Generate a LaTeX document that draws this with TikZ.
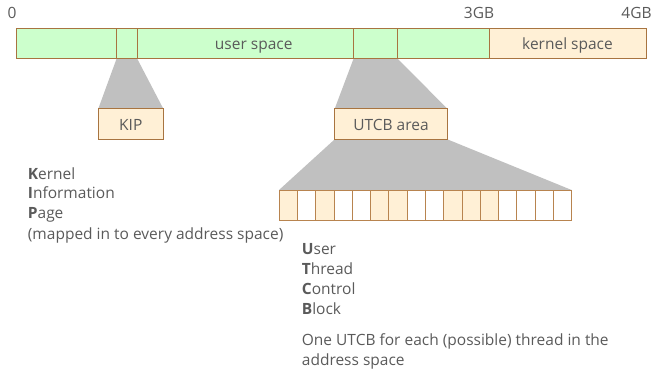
\documentclass[tikz,border=0pt]{standalone}
\usepackage{fontspec}
\setmainfont{Open Sans}
\usetikzlibrary{backgrounds}
\definecolor{grn}{HTML}{CCFFCC}
\definecolor{org}{HTML}{FFF0D6}
\definecolor{brd}{HTML}{A87440}
\definecolor{cbrd}{HTML}{B8844F}
\definecolor{gry}{HTML}{C0C0C0}
\definecolor{txt}{HTML}{5A5A5A}
\begin{document}
\begin{tikzpicture}[x=1pt,y=-1pt,
  every node/.style={text=txt, font=\fontsize{15.5}{18}\selectfont},
  seg/.style={draw=brd, line width=0.8pt, inner sep=0pt, outer sep=0pt, anchor=north west, minimum height=30.3pt},
  cell/.style={draw=cbrd, line width=0.6pt, inner sep=0pt, outer sep=0pt, anchor=north west, minimum width=18.29pt, minimum height=30.7pt},
  lbl/.style={inner sep=0pt, anchor=base west},
  clbl/.style={inner sep=0pt, anchor=base},
  shade/.style={fill=gry}]
\useasboundingbox (0,0) rectangle (654,373);
% bar segments
\node[seg, fill=grn, minimum width=100pt] (u1) at (16.7,28) {};
\node[seg, fill=grn, minimum width=20.3pt] (kipbar) at (116.7,28) {};
\node[seg, fill=grn, minimum width=216.7pt] (u2) at (137,28) {};
\node[seg, fill=grn, minimum width=43.6pt] (utcbbar) at (353.7,28) {};
\node[seg, fill=grn, minimum width=92pt] (u3) at (397.3,28) {};
\node[seg, fill=org, minimum width=157.4pt] (kern) at (489.3,28) {};
\node[clbl] (kt) at (567.5,49) {kernel space};
\node[clbl] (us) at (253.7,49) {user space};
% address labels
\node[clbl] (a0) at (12,18.5) {0};
\node[clbl] (a3) at (479,18.5) {3GB};
\node[clbl] (a4) at (636.5,18.5) {4GB};
% zoom boxes
\node[seg, fill=org, minimum width=65pt, minimum height=30.6pt] (kip) at (98.3,108.7) {};
\node[seg, fill=org, minimum width=112.6pt, minimum height=30.6pt] (utcb) at (334.7,108.7) {};
\node[clbl] (kipl) at (130.8,130) {KIP};
\node[clbl] (utcbl) at (391,130) {UTCB area};
% cells
\foreach \i/\f in {1/org,2/white,3/org,4/white,5/white,6/org,7/org,8/white,9/white,10/org,11/org,12/org,13/white,14/white,15/white,16/white}{
  \node[cell, fill=\f] (c\i) at ({279+(\i-1)*18.29},190) {};
}
% shaded trapezoids
\begin{scope}[on background layer]
\fill[shade] (kipbar.south west) -- (kipbar.south east) -- (kip.north east) -- (kip.north west) -- cycle;
\fill[shade] (utcbbar.south west) -- (utcbbar.south east) -- (utcb.north east) -- (utcb.north west) -- cycle;
\fill[shade] (utcb.south west) -- (utcb.south east) -- (c16.north east) -- (c1.north west) -- cycle;
\end{scope}
% texts
\node[lbl] (k1) at (27.7,179) {\textbf{K}ernel};
\node[lbl] (k2) at (27.7,198.7) {\textbf{I}nformation};
\node[lbl] (k3) at (27.7,218.4) {\textbf{P}age};
\node[lbl] (kipn) at (27.7,239) {(mapped in to every address space)};
\node[lbl] (t1) at (301.7,254) {\textbf{U}ser};
\node[lbl] (t2) at (301.7,274) {\textbf{T}hread};
\node[lbl] (t3) at (301.7,294) {\textbf{C}ontrol};
\node[lbl] (t4) at (301.7,314) {\textbf{B}lock};
\node[lbl] (n1) at (301.7,345) {One UTCB for each (possible) thread in the};
\node[lbl] (n2) at (301.7,365) {address space};
\end{tikzpicture}
\end{document}
